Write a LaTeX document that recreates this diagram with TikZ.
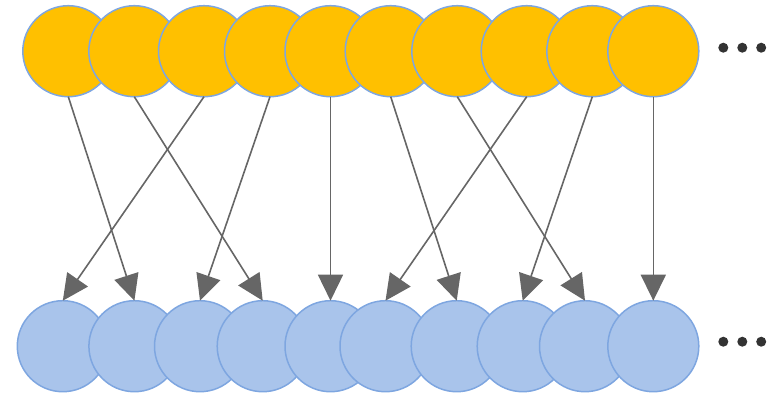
\documentclass[tikz,border=0pt]{standalone}
\usetikzlibrary{arrows.meta}
\definecolor{topfill}{HTML}{FFC000}
\definecolor{botfill}{HTML}{A9C4EB}
\definecolor{ringline}{HTML}{7EA6E0}
\definecolor{edgegray}{HTML}{666666}
\definecolor{dotgray}{HTML}{333333}
\begin{document}
\begin{tikzpicture}[x=1pt,y=-1pt,
  unit/.style={circle,draw=ringline,line width=1.5pt,minimum size=91pt,inner sep=0pt,outer sep=0pt},
  topunit/.style={unit,fill=topfill},
  botunit/.style={unit,fill=botfill},
  link/.style={draw=edgegray,line width=1.6pt,-{Triangle[length=26pt,width=25pt]}},
  ellip/.style={circle,fill=dotgray,minimum size=10pt,inner sep=0pt}]
\useasboundingbox (0,0) rectangle (773,394);
% upper layer, drawn left to right so each circle overlaps the previous one
\foreach \i/\x in {1/68.3,2/134.3,3/204,4/270,5/330.5,6/390.7,7/457.3,8/526.7,9/592.3,10/653.3}
  \node[topunit] (t\i) at (\x,51.2) {};
% lower layer
\foreach \i/\x in {1/62.8,2/134.4,3/200,4/262.7,5/330.5,6/385.5,7/456.7,8/522.7,9/585,10/653.3}
  \node[botunit] (b\i) at (\x,346.2) {};
% continuation dots
\foreach \k/\x in {1/723.3,2/742.3,3/761.2} {
  \node[ellip] (tu\k) at (\x,47.7) {};
  \node[ellip] (bu\k) at (\x,341.7) {};
}
% connections between the layers
\foreach \a/\b in {1/2,2/4,3/1,4/3,5/5,6/7,7/9,8/6,9/8,10/10}
  \draw[link] (t\a.south) -- (b\b.north);
\end{tikzpicture}
\end{document}
